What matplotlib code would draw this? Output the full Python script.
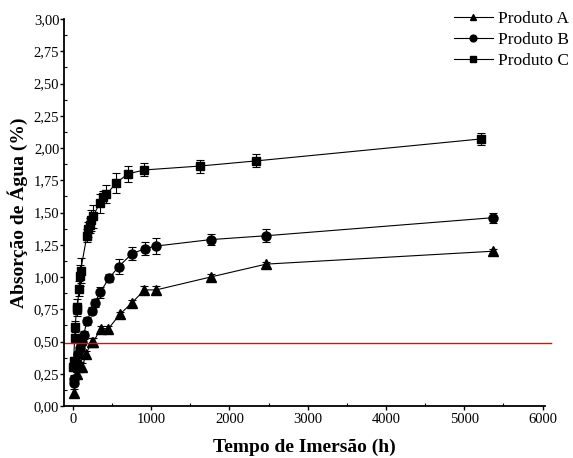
import numpy as np
import matplotlib
matplotlib.use("Agg")
import matplotlib.pyplot as plt
from matplotlib.ticker import FuncFormatter, MultipleLocator

plt.rcParams['font.family'] = ['Liberation Serif', 'DejaVu Serif']

# Produto A (triângulos)
tempo_a = [10, 48, 72, 96, 120, 168, 240, 264, 360, 456, 600, 755, 915, 1065, 1760, 2470, 5370]
absorcao_a = [0.10, 0.25, 0.30, 0.31, 0.30, 0.40, 0.50, 0.50, 0.60, 0.60, 0.71, 0.80, 0.90, 0.90, 1.00, 1.10, 1.20]
erro_a = [0.03, 0.03, 0.03, 0.03, 0.03, 0.03, 0.03, 0.03, 0.02, 0.02, 0.02, 0.02, 0.03, 0.03, 0.02, 0.02, 0.02]

# Produto B (círculos)
tempo_b = [10, 20, 48, 72, 96, 120, 140, 179, 239, 281, 349, 462, 585, 755, 920, 1065, 1760, 2470, 5370]
absorcao_b = [0.18, 0.21, 0.33, 0.40, 0.45, 0.50, 0.55, 0.66, 0.74, 0.80, 0.88, 0.99, 1.08, 1.18, 1.22, 1.24, 1.29, 1.32, 1.46]
erro_b = [0.02, 0.03, 0.03, 0.03, 0.03, 0.03, 0.03, 0.03, 0.03, 0.03, 0.04, 0.03, 0.06, 0.05, 0.05, 0.06, 0.04, 0.05, 0.04]

# Produto C (quadrados)
tempo_c = [5, 10, 24, 30, 48, 60, 80, 90, 100, 180, 200, 215, 235, 255, 345, 390, 430, 555, 705, 915, 1620, 2340, 5210]
absorcao_c = [0.30, 0.35, 0.53, 0.61, 0.75, 0.77, 0.91, 1.01, 1.05, 1.32, 1.37, 1.40, 1.44, 1.47, 1.57, 1.62, 1.64, 1.73, 1.80, 1.83, 1.86, 1.90, 2.07]
erro_c = [0.03, 0.03, 0.04, 0.05, 0.05, 0.06, 0.06, 0.08, 0.10, 0.05, 0.06, 0.06, 0.08, 0.09, 0.07, 0.05, 0.07, 0.08, 0.06, 0.05, 0.05, 0.05, 0.05]

limite = 0.49

series = [
    ('Produto A', tempo_a, absorcao_a, erro_a, '^', 6.5),
    ('Produto B', tempo_b, absorcao_b, erro_b, 'o', 6.5),
    ('Produto C', tempo_c, absorcao_c, erro_c, 's', 6),
]

fig = plt.figure(figsize=(5.73, 4.58), dpi=100)
ax = fig.add_axes([0.112, 0.1135, 0.839, 0.845])

for nome, t, y, e, mk, ms in series:
    ax.errorbar(t, y, yerr=e, fmt='none', ecolor='black', elinewidth=0.8,
                capsize=3, capthick=0.8)
    ax.plot(t, y, color='black', lw=0.8, marker=mk, markersize=ms,
            markerfacecolor='black', markeredgecolor='black', label=nome)

ax.axhline(limite, xmin=0, xmax=1.012, color='red', lw=1.0, clip_on=False)

ax.set_xlim(-110, 6030)
ax.set_ylim(0, 3.0)
ax.xaxis.set_major_locator(MultipleLocator(1000))
ax.xaxis.set_minor_locator(MultipleLocator(500))
ax.yaxis.set_major_locator(MultipleLocator(0.25))
ax.yaxis.set_minor_locator(MultipleLocator(0.125))
ax.yaxis.set_major_formatter(FuncFormatter(lambda v, _: f"{v:.2f}".replace('.', ',')))

for s in ['top', 'right']:
    ax.spines[s].set_visible(False)
for s in ['left', 'bottom']:
    ax.spines[s].set_linewidth(1.3)

ax.tick_params(which='major', direction='out', length=3, width=1, labelsize=10.5)
ax.tick_params(axis='y', which='major', pad=0.5)
ax.tick_params(axis='x', which='major', pad=2)
ax.tick_params(which='minor', direction='in', length=2, width=0.8)

ax.set_xlabel('Tempo de Imersão (h)', fontsize=14, fontweight='bold', labelpad=9)
ax.set_ylabel('Absorção de Água (%)', fontsize=14, fontweight='bold', labelpad=4)

fig.legend(loc='upper left', bbox_to_anchor=(0.793, 0.977), frameon=False,
           fontsize=12.5, handlelength=2.2, handletextpad=0.3, labelspacing=0.3,
           borderpad=0, borderaxespad=0, markerscale=0.75)

fig.savefig('out.png', dpi=100)
